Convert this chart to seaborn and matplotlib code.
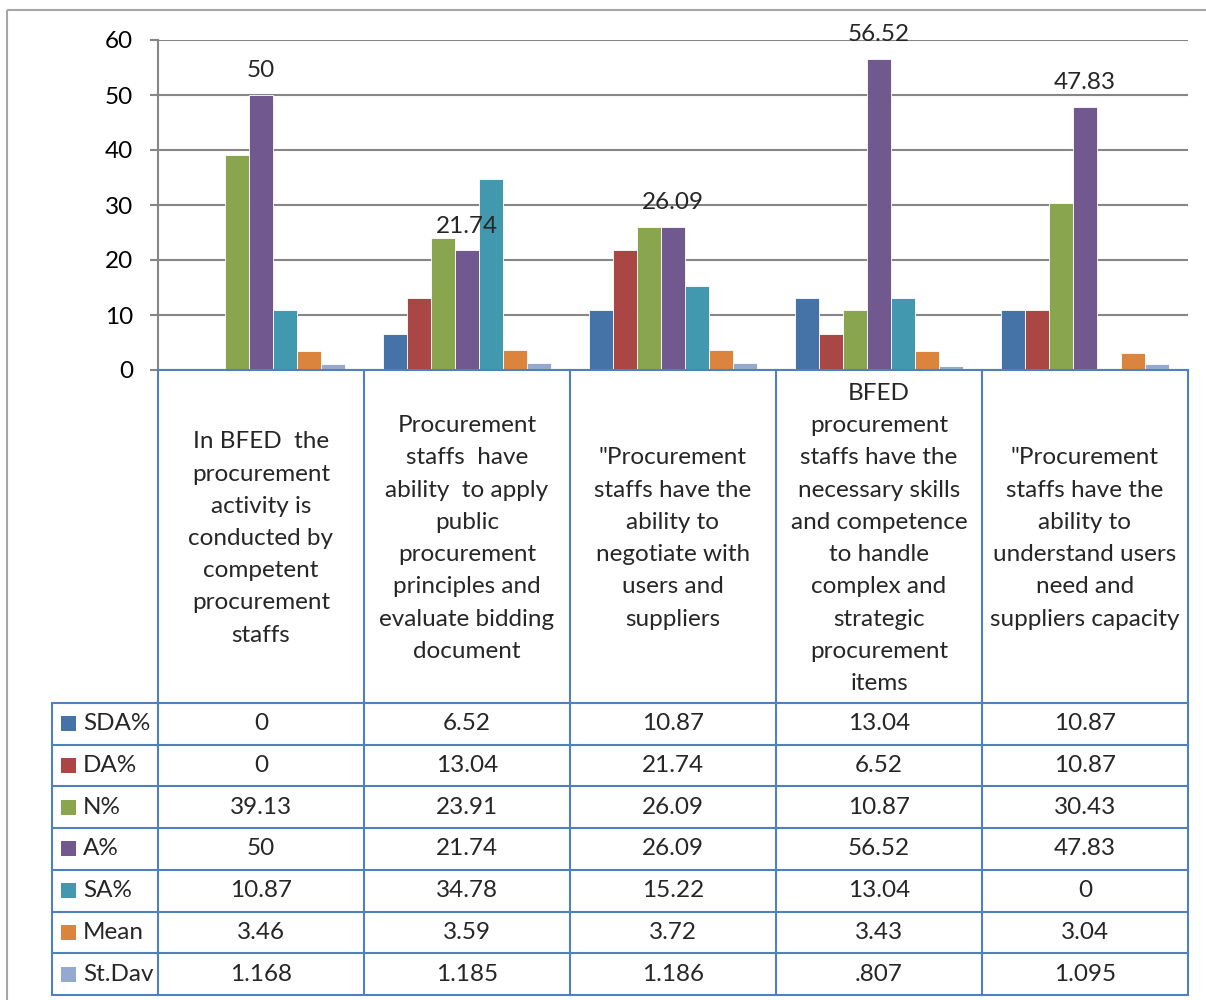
import numpy as np
import pandas as pd
import matplotlib.pyplot as plt
import seaborn as sns
from matplotlib.patches import Rectangle

#%% data
categories = ['In BFED  the\nprocurement\nactivity is\nconducted by\ncompetent\nprocurement\nstaffs',
              'Procurement\nstaffs  have\nability  to apply\npublic\nprocurement\nprinciples and\nevaluate bidding\ndocument',
              '"Procurement\nstaffs have the\nability to\nnegotiate with\nusers and\nsuppliers',
              'BFED\nprocurement\nstaffs have the\nnecessary skills\nand competence\nto handle\ncomplex and\nstrategic\nprocurement\nitems',
              '"Procurement\nstaffs have the\nability to\nunderstand users\nneed and\nsuppliers capacity']
series = ['SDA%', 'DA%', 'N%', 'A%', 'SA%', 'Mean', 'St.Dav']
sda = [0, 6.52, 10.87, 13.04, 10.87]
da = [0, 13.04, 21.74, 6.52, 10.87]
n_pct = [39.13, 23.91, 26.09, 10.87, 30.43]
a_pct = [50, 21.74, 26.09, 56.52, 47.83]
sa = [10.87, 34.78, 15.22, 13.04, 0]
mean = [3.46, 3.59, 3.72, 3.43, 3.04]
stdev = [1.168, 1.185, 1.186, 0.807, 1.095]
colors = ['#4572A7', '#AA4643', '#89A54E', '#71588F', '#4198AF', '#DB843D', '#93A9CF']

values = [sda, da, n_pct, a_pct, sa, mean, stdev]
rows = []
for s, vals in zip(series, values):
    for c, v in zip(categories, vals):
        rows.append({'cat': c, 'series': s, 'val': v})
df = pd.DataFrame(rows)


def fmt(v):
    s = f'{v:g}'
    if s.startswith('0.'):
        s = s[1:]
    return s


#%% figure
sns.set_style('white')
plt.rcParams['font.family'] = ['Lato', 'DejaVu Sans']
FS = 17.5
W, H = 1206, 1000
fig = plt.figure(figsize=(W / 100, H / 100), dpi=100)

x0, x1, y_top, y_zero = 158, 1188, 40, 370
ax = fig.add_axes([x0 / W, (H - y_zero) / H, (x1 - x0) / W, (y_zero - y_top) / H])
sns.barplot(data=df, x='cat', y='val', hue='series', order=categories, hue_order=series,
            palette=colors, saturation=1, width=168 / 206, dodge=True, legend=False,
            edgecolor='white', linewidth=0.6, ax=ax, zorder=3)
ax.bar_label(ax.containers[3], labels=[fmt(v) for v in a_pct], padding=10, fontsize=FS, zorder=5)

ax.set_xlim(-0.5, 4.5)
ax.set_ylim(0, 60)
ax.set_yticks(range(0, 61, 10))
ax.set_xticks([])
ax.set_xlabel('')
ax.set_ylabel('')
ax.yaxis.grid(True, color='#868686', lw=1.5, zorder=0)
ax.set_axisbelow(True)
ax.tick_params(axis='y', length=6, width=1.5, color='#868686', pad=12, labelsize=FS, labelcolor='black', left=True)
for sp in ['top', 'right']:
    ax.spines[sp].set_visible(False)
ax.spines['left'].set_color('#868686')
ax.spines['left'].set_linewidth(1.5)
ax.spines['bottom'].set_color('#4F81BD')
ax.spines['bottom'].set_linewidth(1.5)
ax.spines['bottom'].set_zorder(6)
ax.patch.set_alpha(0)

#%% data table drawn underneath
tax = fig.add_axes([0, 0, 1, 1], zorder=-1)
tax.set_xlim(0, W)
tax.set_ylim(H, 0)
tax.axis('off')

tax.add_patch(Rectangle((7, 10), 1300, 1100, fill=False, edgecolor='#A6A6A6', lw=1.5))

line_c = '#4F81BD'
col_w = (x1 - x0) / len(categories)
xs = [x0 + col_w * i for i in range(len(categories) + 1)]
head_bot = 703
row_h = 41.7
ys = [head_bot + row_h * k for k in range(len(series) + 1)]
leg_x = 52

for x in xs:
    tax.plot([x, x], [y_zero, ys[-1]], color=line_c, lw=1.5)
tax.plot([leg_x, leg_x], [head_bot, ys[-1]], color=line_c, lw=1.5)
for y in ys:
    tax.plot([leg_x, x1], [y, y], color=line_c, lw=1.5)

for i, c in enumerate(categories):
    tax.text(xs[i] + col_w / 2, (y_zero + head_bot) / 2 + 2, c, ha='center', va='center',
             multialignment='center', fontsize=FS, linespacing=1.66)

for k, (s, vals, col) in enumerate(zip(series, values, colors)):
    yc = ys[k] + row_h / 2
    tax.add_patch(Rectangle((61, yc - 7.5), 15, 15, facecolor=col, edgecolor='none'))
    tax.text(83, yc, s, ha='left', va='center', fontsize=FS)
    for i, v in enumerate(vals):
        tax.text(xs[i] + col_w / 2, yc, fmt(v), ha='center', va='center', fontsize=FS)

fig.savefig('out.png', dpi=100)
